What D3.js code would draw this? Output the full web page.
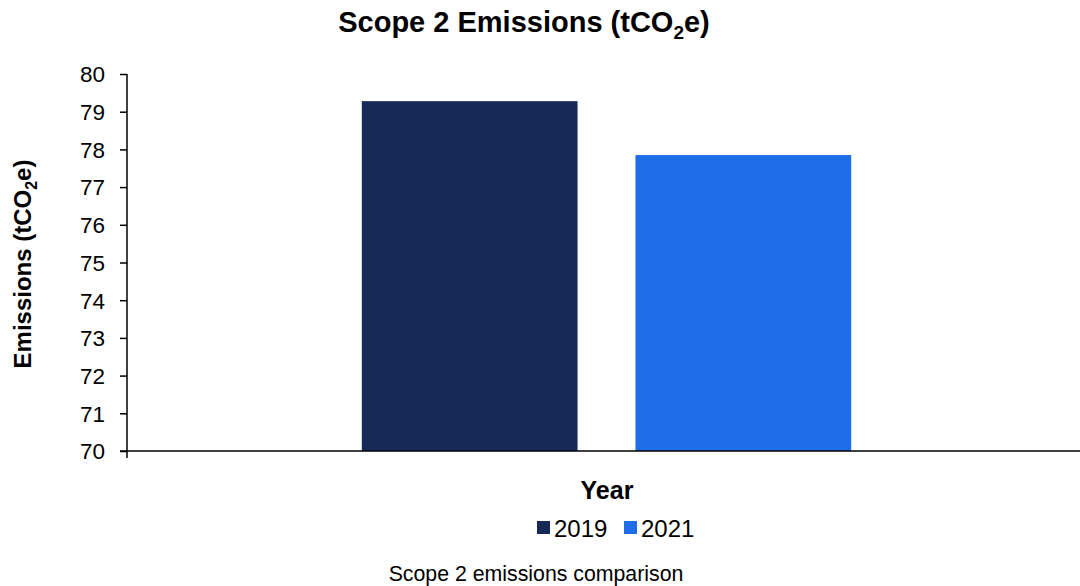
<!DOCTYPE html>
<html>
<head>
<meta charset="utf-8">
<script src="https://cdn.jsdelivr.net/npm/d3@7"></script>
<style>
  body { margin: 0; background: #fff; }
  svg text { font-family: "Liberation Sans", Arial, sans-serif; fill: #000; }
</style>
</head>
<body>
<div id="chart"></div>
<script>
const YEARS = ["2019", "2021"]
const EMISSIONS = [79.28, 77.85]
const COLORS = ["#172a57", "#1e6ce8"]
const Y_TICKS = [70, 71, 72, 73, 74, 75, 76, 77, 78, 79, 80]

const WIDTH = 1080
const HEIGHT = 586
const LEFT = 127
const RIGHT = 1086
const TOP = 74
const BOTTOM = 451

const svg = d3.select("#chart")
  .append("svg")
  .attr("width", WIDTH)
  .attr("height", HEIGHT)

const yScale = d3.scaleLinear()
  .domain([70, 80])
  .range([BOTTOM, TOP])

// two bars in one group, the group sits in the middle of the plot
const xScale = d3.scaleBand()
  .domain(YEARS)
  .range([LEFT, RIGHT])
  .paddingInner(0.2117)
  .paddingOuter(0.858)

svg.selectAll("rect.bar")
  .data(YEARS)
  .enter()
  .append("rect")
  .attr("class", "bar")
  .attr("x", d => xScale(d))
  .attr("y", (d, i) => yScale(EMISSIONS[i]))
  .attr("width", xScale.bandwidth())
  .attr("height", (d, i) => BOTTOM - yScale(EMISSIONS[i]))
  .attr("fill", (d, i) => COLORS[i])

const yAxis = d3.axisLeft(yScale)
  .tickValues(Y_TICKS)
  .tickSize(7)
  .tickPadding(15)
  .tickFormat(d3.format("d"))

const gy = svg.append("g")
  .attr("transform", `translate(${LEFT},0)`)
  .call(yAxis)
gy.select(".domain").attr("stroke", "#000").attr("stroke-width", 1.5)
  .attr("d", `M0,${TOP}V${BOTTOM}`)
gy.selectAll(".tick line").attr("stroke", "#000").attr("stroke-width", 1.5)
gy.selectAll(".tick text")
  .style("font-size", "22.5px")
  .attr("dy", "0.35em")

// x axis line with a tick below at the left edge
const gx = svg.append("g")
gx.append("line")
  .attr("x1", LEFT - 7).attr("x2", RIGHT)
  .attr("y1", BOTTOM).attr("y2", BOTTOM)
  .attr("stroke", "#000").attr("stroke-width", 1.5)
gx.append("line")
  .attr("x1", LEFT).attr("x2", LEFT)
  .attr("y1", BOTTOM).attr("y2", BOTTOM + 7)
  .attr("stroke", "#000").attr("stroke-width", 1.5)

// title
const title = svg.append("text")
  .attr("x", 524).attr("y", 32)
  .attr("text-anchor", "middle")
  .style("font-size", "29px")
  .style("font-weight", "bold")
title.append("tspan").text("Scope 2 Emissions (tCO")
title.append("tspan").text("2").style("font-size", "19px").attr("dy", 7)
title.append("tspan").text("e)").attr("dy", -7)

// y axis title
const yt = svg.append("text")
  .attr("transform", "translate(31,264) rotate(-90)")
  .attr("text-anchor", "middle")
  .style("font-size", "24px")
  .style("font-weight", "bold")
yt.append("tspan").text("Emissions (tCO")
yt.append("tspan").text("2").style("font-size", "16px").attr("dy", 6)
yt.append("tspan").text("e)").attr("dy", -6)

// x axis title
svg.append("text")
  .attr("x", 607).attr("y", 499)
  .attr("text-anchor", "middle")
  .style("font-size", "25px")
  .style("font-weight", "bold")
  .text("Year")

// legend
const legendX = [537, 624]
const legend = svg.selectAll("g.legend")
  .data(YEARS)
  .enter()
  .append("g")
  .attr("class", "legend")
  .attr("transform", (d, i) => `translate(${legendX[i]},521)`)
legend.append("rect")
  .attr("width", 13).attr("height", 13)
  .attr("fill", (d, i) => COLORS[i])
legend.append("text")
  .attr("x", 17).attr("y", 16)
  .style("font-size", "24px")
  .text(d => d)

// caption
svg.append("text")
  .attr("x", 536).attr("y", 581)
  .attr("text-anchor", "middle")
  .style("font-size", "21.3px")
  .text("Scope 2 emissions comparison")
</script>
</body>
</html>
